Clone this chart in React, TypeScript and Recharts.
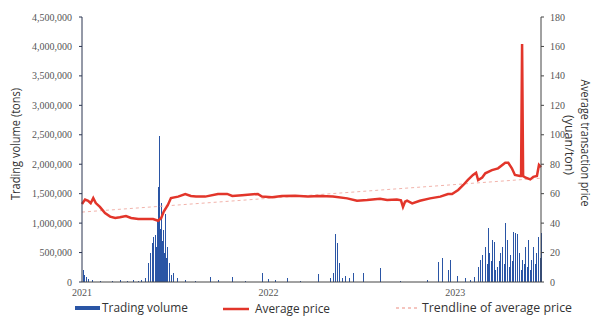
import {
  Bar,
  ComposedChart,
  Line,
  ReferenceLine,
  XAxis,
  YAxis,
} from "recharts";

// days counted from 2021-01-01
const yearTicks = [0, 365, 730];
const yearLabels = ["2021", "2022", "2023"];
const lastDay = 898;

const priceDays = [
  0, 6, 12, 17, 22, 27, 35, 45, 55, 65, 74, 86, 96, 110, 123, 139, 149, 155,
  160, 168, 174, 188, 202, 213, 223, 241, 266, 284, 294, 313, 344, 352, 372,
  391, 417, 442, 466, 491, 519, 538, 558, 583, 597, 616, 624, 628, 632, 636,
  646, 661, 681, 701, 716, 724, 736, 746, 755, 765, 771, 775, 783, 789, 802,
  814, 828, 834, 841, 847, 857, 859, 861, 863, 867, 877, 883, 890, 894, 898,
];
const priceValues = [
  53, 56, 55.2, 53.5, 57, 53.6, 51, 46.8, 44.4, 43.5, 44, 44.8, 43.5, 42.8,
  42.8, 42.8, 41.6, 43.5, 47.8, 52.3, 57, 58, 59.8, 58.4, 58, 58, 59.8, 59.8,
  58.4, 59, 59.8, 58, 57.5, 58.4, 58.6, 58, 58.4, 58, 56.8, 55.2, 55.7, 56.6,
  55.7, 56, 55.5, 51, 54.5, 55.2, 53.4, 55.2, 56.8, 58, 59.8, 59.8, 62.5, 65.9,
  69.3, 72.7, 74.2, 69.3, 71, 73.8, 76, 77.2, 81, 81, 77.2, 72.7, 72, 72, 161.7,
  72, 71, 69.7, 71.4, 72, 79.5, 78,
];

const volumeDays = [
  2, 4, 8, 12, 20, 35, 59, 74, 88, 100, 110, 115, 123, 129, 133, 137, 139, 143,
  145, 147, 149, 151, 153, 155, 157, 159, 160, 162, 164, 166, 170, 174, 178,
  186, 202, 221, 250, 266, 294, 319, 352, 364, 378, 401, 427, 462, 485, 491,
  495, 499, 503, 509, 515, 523, 530, 550, 583, 622, 675, 697, 705, 716, 720,
  734, 750, 759, 767, 775, 779, 783, 789, 793, 795, 797, 800, 802, 806, 808,
  812, 816, 818, 822, 826, 828, 832, 836, 838, 841, 843, 847, 851, 855, 859,
  861, 865, 867, 871, 873, 877, 879, 883, 886, 888, 892, 896, 898,
];
const volumeValues = [
  200000, 120000, 90000, 50000, 30000, 20000, 25000, 30000, 20000, 35000,
  25000, 40000, 60000, 320000, 490000, 660000, 760000, 800000, 600000, 1050000,
  1610000, 2480000, 900000, 1340000, 700000, 880000, 500000, 1150000, 400000,
  600000, 320000, 120000, 150000, 70000, 30000, 25000, 80000, 30000, 90000,
  25000, 160000, 50000, 40000, 70000, 20000, 135000, 70000, 150000, 820000,
  660000, 320000, 60000, 100000, 70000, 150000, 150000, 240000, 20000, 40000,
  340000, 400000, 200000, 370000, 100000, 60000, 40000, 80000, 260000, 370000,
  460000, 600000, 300000, 915000, 490000, 350000, 710000, 680000, 200000,
  260000, 350000, 490000, 600000, 300000, 1000000, 710000, 250000, 460000,
  350000, 855000, 830000, 810000, 490000, 200000, 370000, 300000, 600000,
  250000, 710000, 200000, 370000, 600000, 300000, 490000, 770000, 400000,
  830000,
];

// trendline of average price, start and end
const trendStart = 47.5;
const trendEnd = 70.5;

const volumeTicks = [
  0, 500000, 1000000, 1500000, 2000000, 2500000, 3000000, 3500000, 4000000,
  4500000,
];
const priceTicks = [0, 20, 40, 60, 80, 100, 120, 140, 160, 180];

type Row = { day: number; price?: number; volume?: number };

const byDay = new Map<number, Row>();
priceDays.forEach((d, i) => {
  const r = byDay.get(d) || { day: d };
  r.price = priceValues[i];
  byDay.set(d, r);
});
volumeDays.forEach((d, i) => {
  const r = byDay.get(d) || { day: d };
  r.volume = volumeValues[i];
  byDay.set(d, r);
});
const rows = Array.from(byDay.values()).sort((a, b) => a.day - b.day);

const tickStyle = { fontSize: 10, fontFamily: "Liberation Serif", fill: "#555" };
const sans = "Open Sans";
const barBlue = "#2a55a5";

// snap the thin bars to whole pixels so they don't wash out
const SharpBar = (p: any) => {
  if (!p.height || p.height <= 0) return null;
  return (
    <rect
      x={Math.round(p.x)}
      y={p.y}
      width={Math.max(1, Math.round(p.width))}
      height={p.height}
      fill={barBlue}
      shapeRendering="crispEdges"
    />
  );
};

export default function App() {
  return (
    <div style={{ position: "fixed", left: 0, top: 0, width: 595, height: 316, background: "#fff" }}>
      <ComposedChart
        width={595}
        height={300}
        data={rows}
        margin={{ top: 17, right: 0, bottom: 0, left: 0 }}
      >
        <XAxis
          dataKey="day"
          type="number"
          domain={[0, lastDay]}
          ticks={yearTicks}
          tickFormatter={(v) => yearLabels[yearTicks.indexOf(v)] ?? ""}
          tickLine={false}
          stroke="#444"
          tick={tickStyle}
          height={18}
          tickMargin={1}
        />
        <YAxis
          yAxisId="left"
          domain={[0, 4500000]}
          ticks={volumeTicks}
          tickFormatter={(v) => v.toLocaleString("en-US")}
          width={82}
          stroke="#2b3550"
          tickSize={3}
          tickMargin={7}
          tick={tickStyle}
          interval={0}
        />
        <YAxis
          yAxisId="right"
          orientation="right"
          domain={[0, 180]}
          ticks={priceTicks}
          width={54}
          stroke="#444"
          tickSize={3}
          tickMargin={6}
          tick={tickStyle}
          interval={0}
        />
        <Bar
          yAxisId="left"
          dataKey="volume"
          fill={barBlue}
          barSize={1.5}
          shape={SharpBar}
          isAnimationActive={false}
        />
        <ReferenceLine
          yAxisId="right"
          segment={[
            { x: 0, y: trendStart },
            { x: lastDay, y: trendEnd },
          ]}
          stroke="#f2b3ab"
          strokeDasharray="3 3"
          strokeWidth={1}
        />
        <Line
          yAxisId="right"
          dataKey="price"
          type="linear"
          stroke="#e2352a"
          strokeWidth={2.5}
          dot={false}
          connectNulls
          isAnimationActive={false}
        />
      </ComposedChart>
      <svg
        width={595}
        height={316}
        style={{ position: "absolute", left: 0, top: 0, pointerEvents: "none" }}
      >
        <text
          transform="translate(20,144) rotate(-90)"
          textAnchor="middle"
          fontFamily={sans}
          fontSize={12}
          fill="#333"
          textLength={112}
          lengthAdjust="spacingAndGlyphs"
        >
          Trading volume (tons)
        </text>
        <text
          transform="translate(581,143) rotate(90)"
          textAnchor="middle"
          fontFamily={sans}
          fontSize={12}
          fill="#333"
          textLength={127}
          lengthAdjust="spacingAndGlyphs"
        >
          Average transaction price
        </text>
        <text
          transform="translate(565,145) rotate(90)"
          textAnchor="middle"
          fontFamily={sans}
          fontSize={12}
          fill="#333"
          textLength={60}
          lengthAdjust="spacingAndGlyphs"
        >
          (yuan/ton)
        </text>

        <line x1={75} x2={100} y1={308} y2={308} stroke={barBlue} strokeWidth={4} />
        <text x={102} y={312} fontFamily={sans} fontSize={12} fill="#333" textLength={86} lengthAdjust="spacingAndGlyphs">
          Trading volume
        </text>
        <line x1={223} x2={249} y1={309} y2={309} stroke="#e2352a" strokeWidth={2.5} />
        <text x={255} y={313} fontFamily={sans} fontSize={12} fill="#333" textLength={75} lengthAdjust="spacingAndGlyphs">
          Average price
        </text>
        <line x1={396} x2={418} y1={308} y2={308} stroke="#f2b3ab" strokeWidth={1.5} strokeDasharray="3 3" />
        <text x={422} y={312} fontFamily={sans} fontSize={12} fill="#333" textLength={150} lengthAdjust="spacingAndGlyphs">
          Trendline of average  price
        </text>
      </svg>
    </div>
  );
}
